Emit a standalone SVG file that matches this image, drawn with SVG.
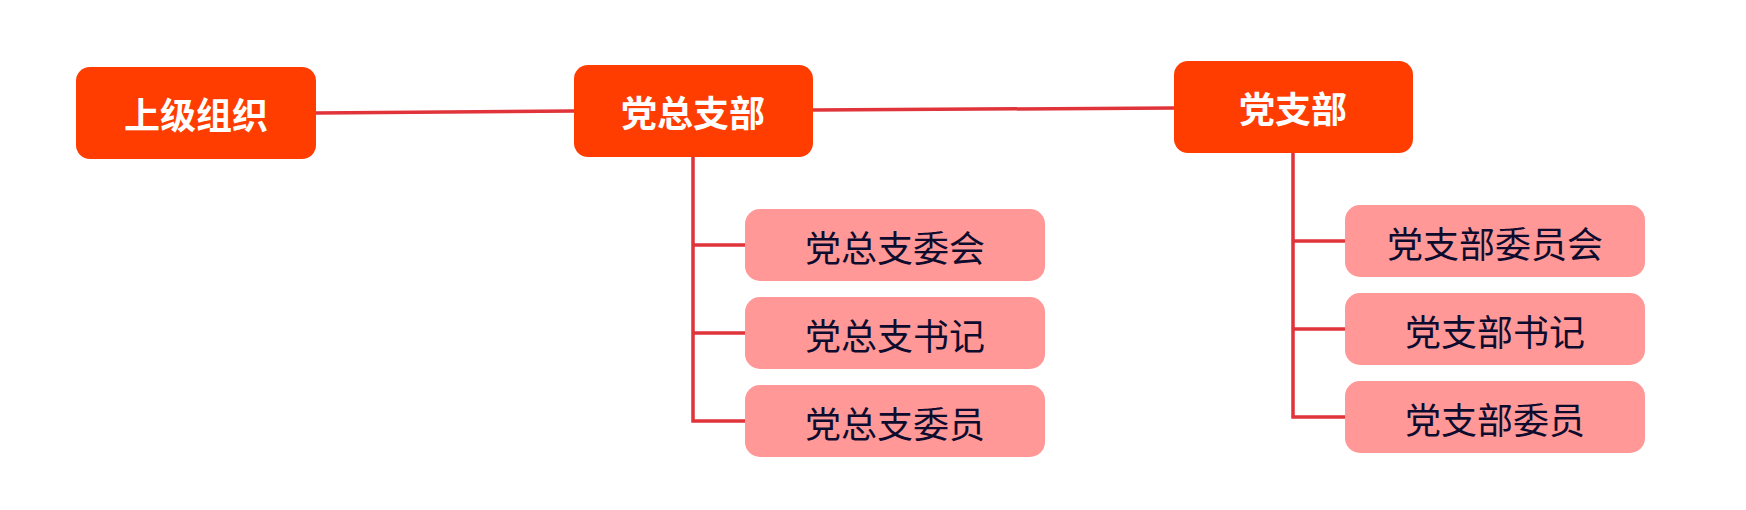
<svg xmlns="http://www.w3.org/2000/svg" width="1746" height="510" viewBox="0 0 1746 510">
<style>
.main rect{fill:#FF3D00;}
.main text{fill:#FFFFFF;font-family:"Noto Sans CJK SC","Noto Sans",sans-serif;font-weight:bold;font-size:36px;text-anchor:middle;dominant-baseline:central;}
.sub rect{fill:#FF9896;}
.sub text{fill:#0E0C2E;font-family:"Noto Sans CJK SC","Noto Sans",sans-serif;font-size:36px;text-anchor:middle;dominant-baseline:central;}
.conn{fill:none;stroke:#E0333A;stroke-width:3.5;}
</style>
<rect width="1746" height="510" fill="#FFFFFF"/>
<g id="connectors">
<path class="conn" d="M316,113 L574,111"/>
<path class="conn" d="M813,110 L1174,108"/>
<path class="conn" d="M693,157 L693,421 L745,421"/>
<path class="conn" d="M693,245 L745,245"/>
<path class="conn" d="M693,333 L745,333"/>
<path class="conn" d="M1293,153 L1293,417 L1345,417"/>
<path class="conn" d="M1293,241 L1345,241"/>
<path class="conn" d="M1293,329 L1345,329"/>
</g>
<g id="n-shangji" class="main"><rect x="76" y="67" width="240" height="92" rx="14"/><text x="196" y="113">上级组织</text></g>
<g id="n-dangzongzhibu" class="main"><rect x="574" y="65" width="239" height="92" rx="14"/><text x="693" y="111">党总支部</text></g>
<g id="n-dangzhibu" class="main"><rect x="1174" y="61" width="239" height="92" rx="14"/><text x="1293" y="107">党支部</text></g>
<g id="n-zwh" class="sub"><rect x="745" y="209" width="300" height="72" rx="15"/><text x="895" y="246">党总支委会</text></g>
<g id="n-zsj" class="sub"><rect x="745" y="297" width="300" height="72" rx="15"/><text x="895" y="334">党总支书记</text></g>
<g id="n-zwy" class="sub"><rect x="745" y="385" width="300" height="72" rx="15"/><text x="895" y="422">党总支委员</text></g>
<g id="n-bwyh" class="sub"><rect x="1345" y="205" width="300" height="72" rx="15"/><text x="1495" y="242">党支部委员会</text></g>
<g id="n-bsj" class="sub"><rect x="1345" y="293" width="300" height="72" rx="15"/><text x="1495" y="330">党支部书记</text></g>
<g id="n-bwy" class="sub"><rect x="1345" y="381" width="300" height="72" rx="15"/><text x="1495" y="418">党支部委员</text></g>
</svg>
